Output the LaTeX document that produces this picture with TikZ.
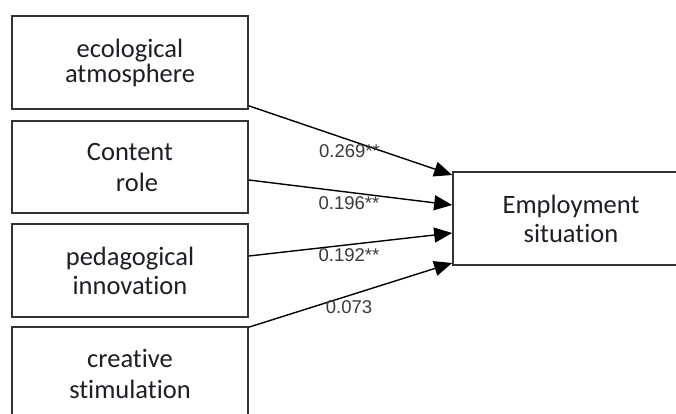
\documentclass[tikz,border=0pt]{standalone}
\usepackage{fontspec}
\setmainfont{Carlito}[Ligatures={NoCommon}]
\newfontfamily\labfont{Liberation Sans}
\usetikzlibrary{arrows.meta}
\definecolor{boxgray}{HTML}{333333}
\definecolor{textdark}{HTML}{1E1E24}
\definecolor{labgray}{HTML}{3A3A3A}
\begin{document}
\begin{tikzpicture}[x=1pt,y=-1pt,
  box/.style={draw=boxgray, line width=1.7pt, minimum width=236pt, minimum height=93pt,
    inner sep=0pt, align=center, font=\fontsize{26.5}{27}\selectfont, text=textdark},
  link/.style={draw=black, line width=1.4pt, -{Triangle[length=18pt,width=15pt]}},
  coef/.style={font=\labfont\fontsize{18.5}{20}\selectfont, text=labgray, inner sep=0pt}]
\useasboundingbox (0,0) rectangle (676,414);
\clip (0,0) rectangle (676,414);
\fill[white] (0,0) rectangle (676,414);

\node[box] (eco) at (130,62.5) {ecological\\[-2pt]atmosphere};
\node[box, minimum height=92pt] (con) at (130,167) {Content\\[4pt]\hspace*{14pt}role};
\node[box] (ped) at (130,270.5) {pedagogical\\[2pt]innovation};
\node[box] (cre) at (130,373.5) {creative\\[4pt]stimulation};
\node[box] (emp) at (571,218.5) {Employment\\[2pt]situation};

\draw[link] ([yshift=4pt]eco.south east) -- ([yshift=43.5pt]emp.west);
\draw[link] ([yshift=-13pt]con.east) -- ([yshift=13.5pt]emp.west);
\draw[link] ([yshift=14.5pt]ped.east) -- ([yshift=-14.5pt]emp.west);
\draw[link] ([yshift=-1pt]cre.north east) -- ([yshift=-44.5pt]emp.west);

\node[coef] (c1) at (349.5,151.5) {0.269**};
\node[coef] (c2) at (349,203) {0.196**};
\node[coef] (c3) at (349,255.5) {0.192**};
\node[coef] (c4) at (349,307) {0.073};
\end{tikzpicture}
\end{document}
